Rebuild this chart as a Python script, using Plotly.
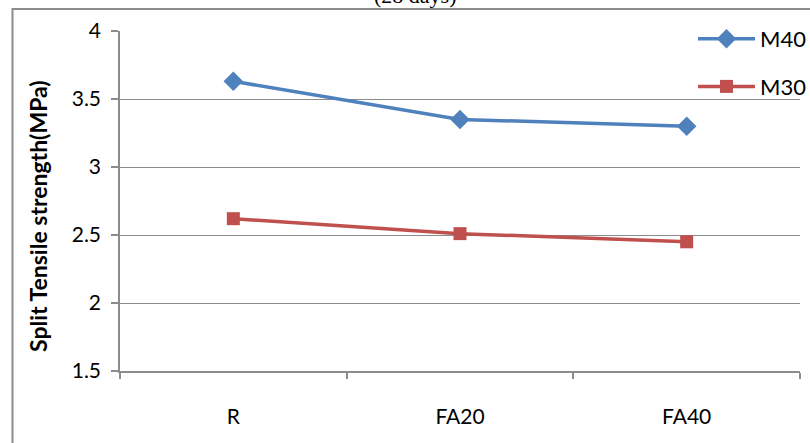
import plotly.graph_objects as go

categories = ["R", "FA20", "FA40"]
m40 = [3.63, 3.35, 3.30]
m30 = [2.62, 2.51, 2.45]
y_ticks = [1.5, 2, 2.5, 3, 3.5, 4]
y_tick_labels = ["1.5", "2", "2.5", "3", "3.5", "4"]

BLUE = "#4F81BD"
RED = "#C0504D"
GRID = "#8C8C8C"
FONT = "Lato, 'Open Sans', sans-serif"

fig = go.Figure()
fig.add_trace(go.Scatter(
    x=categories, y=m40, name="M40", mode="lines+markers",
    line=dict(color=BLUE, width=3.5),
    marker=dict(symbol="diamond", size=15, color=BLUE),
    legendgroup="a",
))
fig.add_trace(go.Scatter(
    x=categories, y=m30, name="M30", mode="lines+markers",
    line=dict(color=RED, width=3.5),
    marker=dict(symbol="square", size=13, color=RED),
    legendgroup="b",
))

W, H = 810, 443
L, R, T, B = 120, 10, 31, 72
pw, ph = W - L - R, H - T - B

def px_x(p):
    return (p - L) / pw

def px_y(p):
    return (H - B - p) / ph

fig.update_layout(
    width=W, height=H,
    margin=dict(l=L, r=R, t=T, b=B, pad=0, autoexpand=False),
    paper_bgcolor="white", plot_bgcolor="white",
    font=dict(family=FONT, size=21, color="black"),
    showlegend=True,
    legend=dict(
        x=px_x(693), y=px_y(18), xanchor="left", yanchor="top",
        bgcolor="rgba(0,0,0,0)", font=dict(size=22, family=FONT),
        traceorder="grouped", tracegroupgap=16, itemwidth=57,
    ),
    xaxis=dict(
        type="category", range=[-0.5, 2.5],
        showgrid=False, showline=True, linecolor=GRID, linewidth=1.5,
        ticks="outside", ticklen=6, tickcolor=GRID, tickwidth=1.5,
        tickson="boundaries", ticklabelstandoff=26,
        tickfont=dict(size=21, family=FONT),
    ),
    yaxis=dict(
        range=[1.5, 4], tickvals=y_ticks, ticktext=y_tick_labels,
        showgrid=True, gridcolor=GRID, gridwidth=1,
        showline=True, linecolor=GRID, linewidth=1.5,
        ticks="outside", ticklen=7, tickcolor=GRID, tickwidth=1.5,
        ticklabelstandoff=6, zeroline=False,
        tickfont=dict(size=21, family=FONT),
    ),
)

fig.add_annotation(
    text="<b>Split Tensile strength(MPa)</b>", textangle=-90,
    xref="paper", yref="paper", x=px_x(38), y=px_y(216),
    xanchor="center", yanchor="middle", showarrow=False,
    font=dict(size=23, family=FONT, color="black"),
)
fig.add_annotation(
    text="(28 days)",
    xref="paper", yref="paper", x=px_x(415), y=px_y(-4),
    xanchor="center", yanchor="middle", showarrow=False,
    font=dict(size=22, family="'Liberation Serif', serif", color="black"),
)
fig.add_shape(
    type="rect", xref="paper", yref="paper",
    x0=px_x(12.5), x1=px_x(830), y0=px_y(460), y1=px_y(9),
    line=dict(color=GRID, width=2), fillcolor="rgba(0,0,0,0)", layer="below",
)

fig.write_html("out.html")
